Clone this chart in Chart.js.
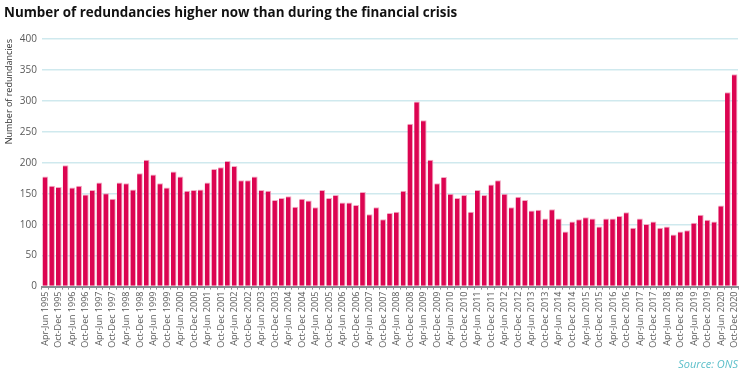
<!DOCTYPE html>
<html>
<head>
<meta charset="utf-8">
<script src="https://cdn.jsdelivr.net/npm/chart.js@4.4.0/dist/chart.umd.min.js"></script>
<style>
  html, body { margin: 0; padding: 0; background: #fff; }
  #wrap { width: 750px; height: 375px; position: relative; }
</style>
</head>
<body>
<div id="wrap"><canvas id="chart"></canvas></div>
<script>
const firstYear = 1995;
const lastYear = 2020;
const quarterNames = ['Jan-Mar', 'Apr-Jun', 'Jul-Sep', 'Oct-Dec'];

// redundancies (thousands), Apr-Jun 1995 .. Oct-Dec 2020
const redundancies = [
  178, 163, 161,
  196, 160, 163, 149,
  156, 168, 151, 142,
  168, 167, 157, 183,
  205, 181, 167, 160,
  186, 178, 155, 156,
  157, 168, 190, 193,
  203, 195, 172, 172,
  178, 156, 155, 140,
  143, 146, 129, 142,
  139, 128, 156, 143,
  148, 136, 136, 132,
  153, 117, 128, 109,
  119, 121, 155, 263,
  299, 269, 205, 167,
  177, 150, 143, 148,
  121, 156, 148, 165,
  172, 150, 128, 145,
  140, 123, 124, 110,
  125, 110, 89, 105,
  109, 112, 110, 97,
  110, 110, 114, 120,
  95, 110, 101, 105,
  95, 97, 84, 89,
  91, 103, 116, 108,
  105, 131, 314, 343
];

const yTicks = [0, 50, 100, 150, 200, 250, 300, 350, 400];

const quarterLabels = [];
for (let y = firstYear; y <= lastYear; y++) {
  quarterNames.forEach((q, i) => {
    if (y === firstYear && i === 0) return;
    quarterLabels.push(q + ' ' + y);
  });
}

const barColor = '#DC0451';
const gridColor = '#cfe9ee';
const axisColor = '#8a8f94';
const tickColor = '#595959';
const fontFamily = "'Open Sans', 'Noto Sans', sans-serif";

new Chart(document.getElementById('chart').getContext('2d'), {
  type: 'bar',
  data: {
    labels: quarterLabels,
    datasets: [{
      data: redundancies,
      backgroundColor: barColor,
      borderColor: '#f2a9c2',
      borderWidth: { top: 1, right: 1, left: 0, bottom: 0 },
      barPercentage: 0.84,
      categoryPercentage: 1.0
    }]
  },
  options: {
    responsive: true,
    maintainAspectRatio: false,
    animation: false,
    layout: { padding: { left: 4, right: 12, top: 0, bottom: 0 } },
    plugins: {
      legend: { display: false },
      tooltip: { enabled: false },
      title: {
        display: true,
        text: 'Number of redundancies higher now than during the financial crisis',
        align: 'start',
        color: '#111',
        font: { family: fontFamily, size: 13.4, weight: 'bold' },
        padding: { top: 5, bottom: 18 }
      },
      subtitle: {
        display: true,
        position: 'bottom',
        text: 'Source: ONS',
        align: 'end',
        color: '#5bbfc9',
        font: { family: fontFamily, size: 11, style: 'italic' },
        padding: { top: 8, bottom: 4 }
      }
    },
    scales: {
      x: {
        grid: {
          display: true,
          drawOnChartArea: false,
          drawTicks: true,
          tickLength: 3,
          color: axisColor
        },
        border: { display: true, color: axisColor, width: 2 },
        ticks: {
          autoSkip: false,
          maxRotation: 90,
          minRotation: 90,
          color: tickColor,
          padding: 2,
          font: { family: fontFamily, size: 9 },
          callback: function (value, index) {
            return index % 2 === 0 ? this.getLabelForValue(value) : '';
          }
        }
      },
      y: {
        min: 0,
        max: 400,
        afterBuildTicks: axis => { axis.ticks = yTicks.map(v => ({ value: v })); },
        grid: {
          color: gridColor,
          lineWidth: 1.5,
          drawTicks: false
        },
        border: { display: false },
        ticks: {
          color: tickColor,
          padding: 5,
          font: { family: fontFamily, size: 10 }
        },
        title: {
          display: true,
          text: 'Number of redundancies',
          align: 'end',
          color: '#333',
          font: { family: fontFamily, size: 9 },
          padding: { top: 0, bottom: 0 }
        }
      }
    }
  }
});
</script>
</body>
</html>
